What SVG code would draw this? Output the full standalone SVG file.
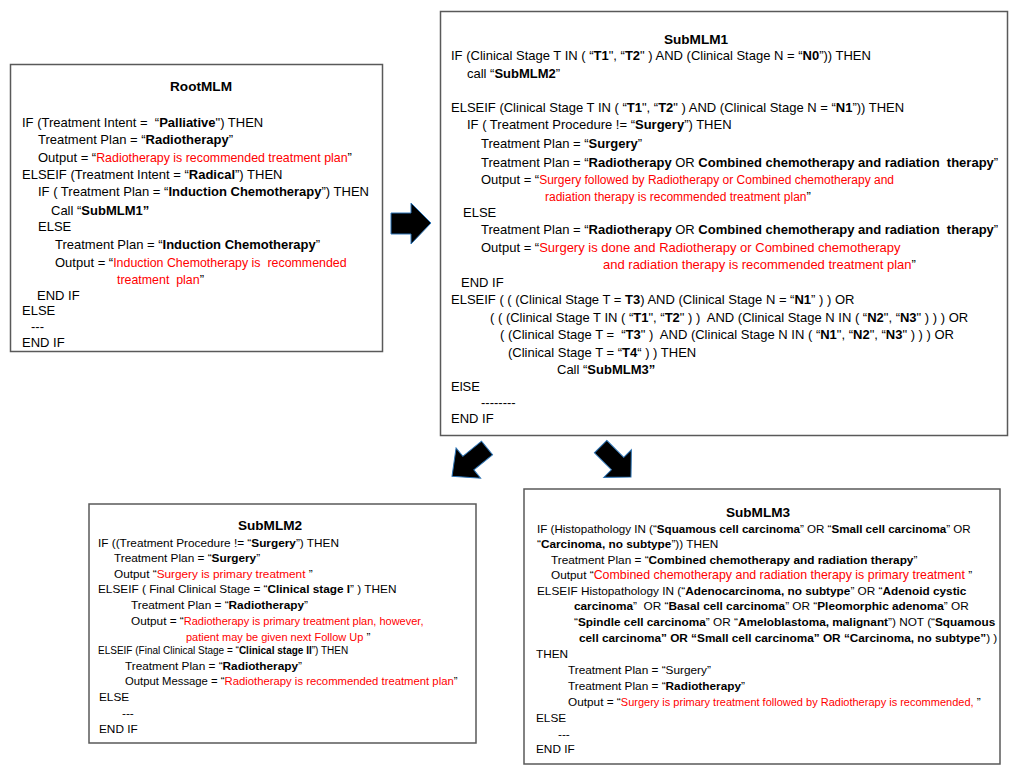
<svg xmlns="http://www.w3.org/2000/svg" width="1024" height="781" viewBox="0 0 1024 781">
<style>
text{font-family:"Liberation Sans",Arial,sans-serif;font-size:13px;fill:#000;white-space:pre}
.s text{font-size:11.8px}
.b{font-weight:bold}
.r{fill:#f00}
.title{font-weight:bold;font-size:13.6px !important}
.box{fill:#fff;stroke:#595959;stroke-width:1.5}
.arr{fill:#000;stroke:#2e75b6;stroke-width:1}
</style>
<rect width="1024" height="781" fill="#fff"/>
<g id="connectors">
<polygon class="arr" points="391,213 411,213 411,203 431,223 411,244 411,234 391,234"/>
<polygon class="arr" transform="translate(487,448) rotate(141)" points="0,-8.75 24,-8.75 24,-19.5 45,0 24,19.5 24,8.75 0,8.75"/>
<polygon class="arr" transform="translate(600.6,446.6) rotate(45)" points="0,-8.75 24,-8.75 24,-19.5 43,0 24,19.5 24,8.75 0,8.75"/>
</g>
<g id="RootMLM">
<rect class="box" x="10.5" y="64.5" width="372" height="287"/>
<text class="title" x="201" y="91" text-anchor="middle">RootMLM</text>
<text x="22" y="126.5">IF (Treatment Intent =  “<tspan class="b">Palliative</tspan>") THEN</text>
<text x="38" y="144">Treatment Plan = “<tspan class="b">Radiotherapy</tspan>”</text>
<text x="38" y="161.5">Output = “<tspan class="r" font-size="12.4">Radiotherapy is recommended treatment plan</tspan>”</text>
<text x="22" y="179">ELSEIF (Treatment Intent = “<tspan class="b">Radical</tspan>”) THEN</text>
<text x="38" y="196">IF ( Treatment Plan = “<tspan class="b">Induction Chemotherapy</tspan>”) THEN</text>
<text x="51" y="214.5">Call “<tspan class="b">SubMLM1”</tspan></text>
<text x="38" y="231">ELSE</text>
<text x="55" y="249">Treatment Plan = “<tspan class="b">Induction Chemotherapy</tspan>”</text>
<text x="55" y="267">Output = “<tspan class="r" font-size="12.4">Induction Chemotherapy is  recommended</tspan></text>
<text x="117" y="284"><tspan class="r" font-size="12.4">treatment  plan</tspan>”</text>
<text x="37" y="299.5">END IF</text>
<text x="22" y="314.5">ELSE</text>
<text x="31" y="330.5">---</text>
<text x="22" y="347">END IF</text>
</g>
<g id="SubMLM1">
<rect class="box" x="440.5" y="11.5" width="567" height="424"/>
<text class="title" x="696" y="44" text-anchor="middle">SubMLM1</text>
<text x="451" y="60">IF (Clinical Stage T IN ( “<tspan class="b">T1</tspan>", “<tspan class="b">T2</tspan>" ) AND (Clinical Stage N = “<tspan class="b">N0</tspan>”)) THEN</text>
<text x="467" y="77.5">call “<tspan class="b">SubMLM2</tspan>”</text>
<text x="451" y="111.5">ELSEIF (Clinical Stage T IN ( “<tspan class="b">T1</tspan>", “<tspan class="b">T2</tspan>" ) AND (Clinical Stage N = “<tspan class="b">N1</tspan>”)) THEN</text>
<text x="467" y="129">IF ( Treatment Procedure != “<tspan class="b">Surgery</tspan>”) THEN</text>
<text x="481" y="147.5">Treatment Plan = “<tspan class="b">Surgery</tspan>”</text>
<text x="481" y="166.5">Treatment Plan = “<tspan class="b">Radiotherapy</tspan> OR <tspan class="b">Combined chemotherapy and radiation  therapy</tspan>”</text>
<text x="481" y="184">Output = “<tspan class="r" font-size="12">Surgery followed by Radiotherapy or Combined chemotherapy and</tspan></text>
<text x="545" y="200.5"><tspan class="r" font-size="12">radiation therapy is recommended treatment plan</tspan>”</text>
<text x="463" y="216.5">ELSE</text>
<text x="481" y="234">Treatment Plan = “<tspan class="b">Radiotherapy</tspan> OR <tspan class="b">Combined chemotherapy and radiation  therapy</tspan>”</text>
<text x="481" y="251.5">Output = “<tspan class="r">Surgery is done and Radiotherapy or Combined chemotherapy</tspan></text>
<text x="603" y="269"><tspan class="r">and radiation therapy is recommended treatment plan</tspan>”</text>
<text x="461" y="286.5">END IF</text>
<text x="451" y="304">ELSEIF ( ( (Clinical Stage T = <tspan class="b">T3</tspan>) AND (Clinical Stage N = “<tspan class="b">N1</tspan>” ) ) OR</text>
<text x="490" y="322">( ( (Clinical Stage T IN ( “<tspan class="b">T1</tspan>", “<tspan class="b">T2</tspan>" ) )  AND (Clinical Stage N IN ( “<tspan class="b">N2</tspan>", “<tspan class="b">N3</tspan>" ) ) ) OR</text>
<text x="500" y="339">( (Clinical Stage T =  “<tspan class="b">T3</tspan>" )  AND (Clinical Stage N IN ( “<tspan class="b">N1</tspan>", “<tspan class="b">N2</tspan>", “<tspan class="b">N3</tspan>" ) ) ) OR</text>
<text x="508" y="356.5">(Clinical Stage T = “<tspan class="b">T4</tspan>“ ) ) THEN</text>
<text x="557" y="374">Call “<tspan class="b">SubMLM3”</tspan></text>
<text x="451" y="391">ElSE</text>
<text x="481" y="407">--------</text>
<text x="451" y="422.5">END IF</text>
</g>
<g id="SubMLM2" class="s">
<rect class="box" x="89" y="504" width="387" height="239"/>
<text class="title" x="270" y="529.5" text-anchor="middle">SubMLM2</text>
<text x="98" y="546.8">IF ((Treatment Procedure != “<tspan class="b">Surgery</tspan>”) THEN</text>
<text x="114" y="562.4">Treatment Plan = “<tspan class="b">Surgery</tspan>”</text>
<text x="114" y="578">Output “<tspan class="r">Surgery is primary treatment </tspan>”</text>
<text x="98" y="593.4">ELSEIF ( Final Clinical Stage = “<tspan class="b">Clinical stage I</tspan>” ) THEN</text>
<text x="131" y="609">Treatment Plan = “<tspan class="b">Radiotherapy</tspan>”</text>
<text x="131" y="625">Output = “<tspan class="r" font-size="11">Radiotherapy is primary treatment plan, however,</tspan></text>
<text x="186" y="641.4"><tspan class="r" font-size="11">patient may be given next Follow Up </tspan>”</text>
<text x="98" y="654.3" style="font-size:10px">ELSEIF (Final Clinical Stage = “<tspan class="b">Clinical stage II</tspan>”) THEN</text>
<text x="125" y="670">Treatment Plan = “<tspan class="b">Radiotherapy</tspan>”</text>
<text x="125" y="685" style="font-size:11.3px">Output Message = “<tspan class="r">Radiotherapy is recommended treatment plan</tspan>”</text>
<text x="99" y="700.8">ELSE</text>
<text x="122" y="716.8">---</text>
<text x="99" y="733.4">END IF</text>
</g>
<g id="SubMLM3" class="s">
<rect class="box" x="524" y="489" width="476" height="275"/>
<text class="title" x="758" y="516.5" text-anchor="middle">SubMLM3</text>
<text x="537" y="532.8" style="font-size:11.6px">IF (Histopathology IN (“<tspan class="b">Squamous cell carcinoma</tspan>” OR “<tspan class="b">Small cell carcinoma</tspan>” OR</text>
<text x="537" y="547.8">“<tspan class="b">Carcinoma, no subtype</tspan>”)) THEN</text>
<text x="551" y="563.8">Treatment Plan = “<tspan class="b">Combined chemotherapy and radiation therapy</tspan>”</text>
<text x="551" y="579.4">Output “<tspan class="r" font-size="12.4">Combined chemotherapy and radiation therapy is primary treatment </tspan>”</text>
<text x="537" y="595.1">ELSEIF Histopathology IN (“<tspan class="b">Adenocarcinoma, no subtype</tspan>” OR “<tspan class="b">Adenoid cystic</tspan></text>
<text x="574" y="610.4"><tspan class="b">carcinoma</tspan>”  OR “<tspan class="b">Basal cell carcinoma</tspan>” OR “<tspan class="b">Pleomorphic adenoma</tspan>” OR</text>
<text x="574" y="626.4">“<tspan class="b">Spindle cell carcinoma</tspan>” OR “<tspan class="b">Ameloblastoma, malignant</tspan>”) NOT (“<tspan class="b">Squamous</tspan></text>
<text x="579" y="642.4"><tspan class="b">cell carcinoma” OR “Small cell carcinoma” OR “Carcinoma, no subtype”</tspan>) )</text>
<text x="536" y="658.4">THEN</text>
<text x="568" y="674.1">Treatment Plan = “Surgery”</text>
<text x="568" y="690.1">Treatment Plan = “<tspan class="b">Radiotherapy</tspan>”</text>
<text x="568" y="705.8">Output = “<tspan class="r" font-size="11">Surgery is primary treatment followed by Radiotherapy is recommended, </tspan>”</text>
<text x="536" y="722.4">ELSE</text>
<text x="558" y="738.4">---</text>
<text x="536" y="753.4">END IF</text>
</g>
</svg>
